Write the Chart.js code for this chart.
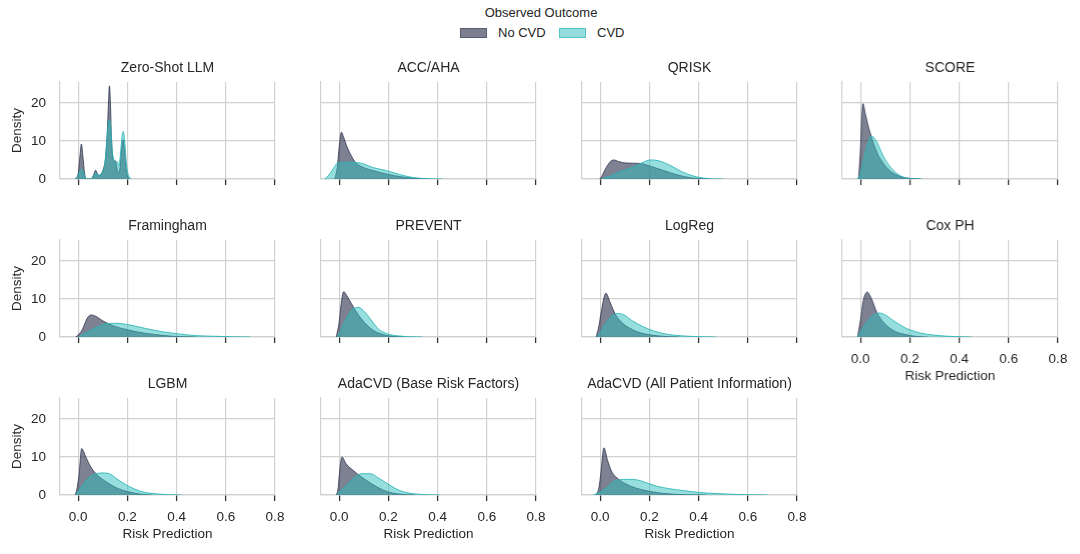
<!DOCTYPE html>
<html>
<head>
<meta charset="utf-8">
<script src="https://cdn.jsdelivr.net/npm/chart.js@4.4.1/dist/chart.umd.min.js"></script>
<style>
  html, body { margin: 0; padding: 0; background: #fff; }
  body { width: 1080px; height: 554px; position: relative; overflow: hidden;
         font-family: 'Liberation Sans', Arial, sans-serif; color: #262626; }
  canvas.panel { position: absolute; }
  .legend-title { position: absolute; left: 0; width: 1082px; top: 5px; text-align: center; font-size: 13px; }
  .swatch { position: absolute; top: 28px; width: 25px; height: 8px; }
  .legend-text { position: absolute; top: 25px; font-size: 13px; }
</style>
</head>
<body>
<div class="legend-title">Observed Outcome</div>
<div class="swatch" style="left:460px;background:#7c7f8f;border:1px solid #585c70;"></div>
<div class="legend-text" style="left:498px;">No CVD</div>
<div class="swatch" style="left:559px;background:#97dcdc;border:1px solid #52c4c4;"></div>
<div class="legend-text" style="left:597px;">CVD</div>

<script>
// Tick labels shared by every panel
const xTicks = [0, 0.2, 0.4, 0.6, 0.8];
const yTicks = [0, 10, 20];
const seriesNames = ['No CVD', 'CVD'];

const modelNames = ['Zero-Shot LLM', 'ACC/AHA', 'QRISK', 'SCORE', 'Framingham', 'PREVENT',
  'LogReg', 'Cox PH', 'LGBM', 'AdaCVD (Base Risk Factors)', 'AdaCVD (All Patient Information)'];

// Density curves: [risk, density]
const zeroShotNoCvd = [[-0.01,0],[0.0,1.5],[0.007,6],[0.013,9.2],[0.019,6],[0.026,1.5],[0.033,0],[0.052,0],[0.062,1],[0.071,2.3],[0.078,1.4],[0.085,0.8],[0.095,1.5],[0.104,3],[0.112,6],[0.118,12],[0.123,20],[0.127,24.5],[0.131,20],[0.135,11],[0.140,6],[0.146,4.5],[0.151,4.8],[0.157,3],[0.163,1.5],[0.170,3],[0.176,7.5],[0.183,10.3],[0.189,7],[0.195,2.5],[0.202,0.5],[0.21,0]];
const zeroShotCvd = [[-0.012,0],[0.0,1],[0.007,2.2],[0.013,2.6],[0.02,2],[0.028,0.5],[0.036,0],[0.05,0],[0.062,0.8],[0.071,1.6],[0.08,1.0],[0.09,1.2],[0.1,2],[0.108,4],[0.115,9],[0.121,14],[0.127,15.6],[0.133,13],[0.139,7],[0.146,5],[0.152,4.3],[0.158,4.6],[0.165,3.5],[0.171,6],[0.177,10.5],[0.183,12.5],[0.189,10],[0.196,4],[0.204,1],[0.215,0]];

const accAhaNoCvd = [[-0.018,0],[-0.008,3],[0.0,8.5],[0.009,12.3],[0.018,11],[0.031,8.6],[0.051,5.9],[0.067,4.3],[0.1,3],[0.15,2],[0.2,1.2],[0.25,0.6],[0.3,0.2],[0.36,0]];
const accAhaCvd = [[-0.06,0],[-0.045,0.8],[-0.023,2.8],[-0.009,4.1],[0.01,4.4],[0.04,4.4],[0.075,4.3],[0.098,4],[0.138,3],[0.192,2.2],[0.245,1.2],[0.299,0.4],[0.35,0.12],[0.42,0]];

const qriskNoCvd = [[-0.003,0],[0.003,0.3],[0.02,2.5],[0.04,4.5],[0.055,5.0],[0.075,4.6],[0.104,4.2],[0.16,4.1],[0.217,3.1],[0.287,1.6],[0.344,0.6],[0.4,0.1],[0.45,0]];
const qriskCvd = [[0.005,0],[0.04,0.8],[0.076,1.8],[0.132,3.1],[0.175,4.4],[0.203,5.0],[0.238,4.8],[0.287,3.5],[0.33,2],[0.372,0.9],[0.414,0.3],[0.456,0.05],[0.5,0]];

const scoreNoCvd = [[-0.008,0],[0.0,8],[0.005,16],[0.01,19.8],[0.02,17],[0.038,12.4],[0.066,7.1],[0.094,4],[0.122,2],[0.164,0.6],[0.206,0.1],[0.24,0]];
const scoreCvd = [[-0.012,0],[0.0,1.5],[0.01,4.4],[0.031,9.7],[0.045,11.3],[0.066,9.7],[0.094,5.8],[0.122,3.1],[0.15,1.3],[0.178,0.4],[0.22,0.05],[0.25,0]];

const framinghamNoCvd = [[-0.01,0],[0.0,0.5],[0.017,2],[0.038,5.1],[0.052,5.8],[0.073,5.4],[0.101,4.2],[0.144,2.9],[0.2,1.9],[0.27,1],[0.34,0.45],[0.41,0.1],[0.48,0]];
const framinghamCvd = [[0.0,0],[0.02,0.7],[0.045,1.6],[0.087,2.9],[0.115,3.5],[0.158,3.6],[0.214,3.1],[0.27,2.3],[0.341,1.4],[0.41,0.8],[0.482,0.35],[0.552,0.2],[0.637,0.05],[0.7,0]];

const preventNoCvd = [[-0.012,0],[0.0,4],[0.007,8.2],[0.018,11.9],[0.035,10.4],[0.063,7.3],[0.091,4.7],[0.133,2],[0.175,0.7],[0.231,0.1],[0.27,0]];
const preventCvd = [[-0.008,0],[0.005,1.5],[0.021,3.8],[0.049,6.9],[0.077,7.8],[0.105,6.5],[0.133,4.2],[0.161,2],[0.189,1],[0.231,0.35],[0.3,0.05],[0.34,0]];

const logRegNoCvd = [[-0.016,0],[-0.005,3],[0.006,7.3],[0.023,11.5],[0.041,9],[0.062,5.9],[0.09,3.7],[0.132,1.9],[0.175,0.9],[0.23,0.35],[0.287,0.05],[0.32,0]];
const logRegCvd = [[-0.012,0],[0.0,1.2],[0.02,3.4],[0.048,5.6],[0.073,6.2],[0.097,5.8],[0.132,4.2],[0.175,2.7],[0.217,1.6],[0.273,0.7],[0.344,0.25],[0.428,0.05],[0.47,0]];

const coxNoCvd = [[-0.012,0],[0.0,4.5],[0.01,9.1],[0.027,11.8],[0.045,10],[0.066,6.5],[0.094,3.8],[0.136,1.6],[0.178,0.7],[0.234,0.1],[0.27,0]];
const coxCvd = [[-0.012,0],[0.0,1.4],[0.024,3.8],[0.052,5.8],[0.077,6.3],[0.1,5.8],[0.136,4.2],[0.178,2.5],[0.234,1.2],[0.304,0.45],[0.388,0.1],[0.45,0]];

const lgbmNoCvd = [[-0.012,0],[-0.004,2],[0.003,5.1],[0.014,12.2],[0.031,10],[0.052,7.3],[0.08,5.1],[0.115,3.4],[0.158,1.8],[0.2,0.9],[0.256,0.2],[0.3,0]];
const lgbmCvd = [[-0.01,0],[0.0,1],[0.017,2.5],[0.045,4.7],[0.073,5.6],[0.101,5.8],[0.127,5.6],[0.158,4.2],[0.194,2.7],[0.228,1.6],[0.27,0.7],[0.327,0.25],[0.383,0.05],[0.42,0]];

const adaBaseNoCvd = [[-0.011,0],[-0.004,2],[0.0,5.1],[0.011,10],[0.028,8.2],[0.056,6.5],[0.091,4.7],[0.133,2.9],[0.175,1.4],[0.217,0.5],[0.273,0.1],[0.31,0]];
const adaBaseCvd = [[-0.008,0],[0.0,0.8],[0.021,2],[0.063,4.7],[0.091,5.6],[0.126,5.6],[0.161,4.4],[0.203,2.7],[0.245,1.2],[0.3,0.35],[0.37,0.05],[0.41,0]];

const adaAllNoCvd = [[-0.016,0],[-0.005,2],[0.003,6],[0.015,12.4],[0.03,9.1],[0.048,6],[0.076,4.1],[0.118,2.5],[0.175,1.3],[0.245,0.5],[0.315,0.15],[0.385,0.05],[0.43,0]];
const adaAllCvd = [[-0.028,0],[0.0,0.8],[0.02,1.6],[0.062,3.8],[0.104,4.1],[0.146,4],[0.189,3.2],[0.231,2.3],[0.287,1.6],[0.344,1.1],[0.414,0.6],[0.485,0.35],[0.555,0.15],[0.625,0.05],[0.68,0]];

const noCvdCurves = [zeroShotNoCvd, accAhaNoCvd, qriskNoCvd, scoreNoCvd, framinghamNoCvd, preventNoCvd,
  logRegNoCvd, coxNoCvd, lgbmNoCvd, adaBaseNoCvd, adaAllNoCvd];
const cvdCurves = [zeroShotCvd, accAhaCvd, qriskCvd, scoreCvd, framinghamCvd, preventCvd,
  logRegCvd, coxCvd, lgbmCvd, adaBaseCvd, adaAllCvd];

Chart.defaults.font.family = "'Liberation Sans', Arial, sans-serif";
Chart.defaults.color = '#262626';
Chart.defaults.animation = false;

// grid geometry
const plotLeft0 = 59.7, colStep = 260.9, plotW = 215.5;
const plotTop0 = 82.3, rowStep = 158, plotH = 97;
const yAxisW = 60, titleH = 28, xAxisH = 50, padRight = 22;

const toPoints = arr => arr.map(p => ({ x: p[0], y: p[1] }));

modelNames.forEach((name, i) => {
    const col = i % 4, row = Math.floor(i / 4);
    const showX = i >= 7;        // bottom panel of each column
    const showY = col === 0;

    const canvas = document.createElement('canvas');
    canvas.className = 'panel';
    const w = yAxisW + plotW + padRight, h = titleH + plotH + xAxisH;
    canvas.width = w; canvas.height = h;
    canvas.style.width = w + 'px'; canvas.style.height = h + 'px';
    canvas.style.left = (plotLeft0 + colStep * col - yAxisW) + 'px';
    canvas.style.top = (plotTop0 + rowStep * row - titleH) + 'px';
    document.body.appendChild(canvas);

    new Chart(canvas.getContext('2d'), {
        type: 'line',
        data: {
            datasets: [{
                label: seriesNames[0],
                data: toPoints(noCvdCurves[i]),
                backgroundColor: 'rgba(40, 45, 72, 0.6)',
                borderColor: 'rgba(40, 45, 72, 0.75)',
                borderWidth: 1,
                fill: 'origin',
                pointRadius: 0,
                cubicInterpolationMode: 'monotone',
                order: 1
            }, {
                label: seriesNames[1],
                data: toPoints(cvdCurves[i]),
                backgroundColor: 'rgba(48, 190, 190, 0.5)',
                borderColor: 'rgba(40, 180, 180, 0.85)',
                borderWidth: 1,
                fill: 'origin',
                pointRadius: 0,
                cubicInterpolationMode: 'monotone',
                order: 0
            }]
        },
        options: {
            responsive: false,
            devicePixelRatio: 1,
            layout: { padding: { left: 0, right: padRight, top: 0, bottom: 0 } },
            plugins: {
                legend: { display: false },
                tooltip: { enabled: false },
                title: {
                    display: true,
                    text: name,
                    fullSize: false,   // centre over the plot area, not the canvas
                    color: '#262626',
                    font: { size: 14, weight: 'normal' },
                    padding: { top: 5.6, bottom: 5.6 }
                }
            },
            scales: {
                x: {
                    type: 'linear',
                    min: -0.074,
                    max: 0.8,
                    afterBuildTicks: s => { s.ticks = xTicks.map(v => ({ value: v })); },
                    afterFit: s => { s.height = xAxisH; s.paddingLeft = 0; s.paddingRight = 0; },
                    grid: { color: '#d0d0d0', lineWidth: 1.2, drawTicks: true, tickLength: 6, tickColor: '#333', tickWidth: 1.3 },
                    border: { color: '#d0d0d0', width: 1.2 },
                    ticks: {
                        display: showX,
                        padding: 8,
                        maxRotation: 0,
                        font: { size: 13.5 },
                        color: '#262626',
                        callback: v => v.toFixed(1)
                    },
                    title: {
                        display: showX,
                        text: 'Risk Prediction',
                        font: { size: 13.5 },
                        color: '#262626',
                        padding: { top: 0, bottom: 3 }
                    }
                },
                y: {
                    min: 0,
                    max: 25.5,
                    afterBuildTicks: s => { s.ticks = yTicks.map(v => ({ value: v })); },
                    afterFit: s => { s.width = yAxisW; s.paddingTop = 0; s.paddingBottom = 0; },
                    grid: { color: '#d0d0d0', lineWidth: 1.2, drawTicks: false },
                    border: { color: '#d0d0d0', width: 1.2 },
                    ticks: {
                        display: showY,
                        padding: 14,
                        font: { size: 13.5 },
                        color: '#262626'
                    },
                    title: {
                        display: showY,
                        text: 'Density',
                        font: { size: 13.5 },
                        color: '#262626',
                        padding: { top: 9.5, bottom: 0 }
                    }
                }
            }
        }
    });
});
</script>
</body>
</html>
